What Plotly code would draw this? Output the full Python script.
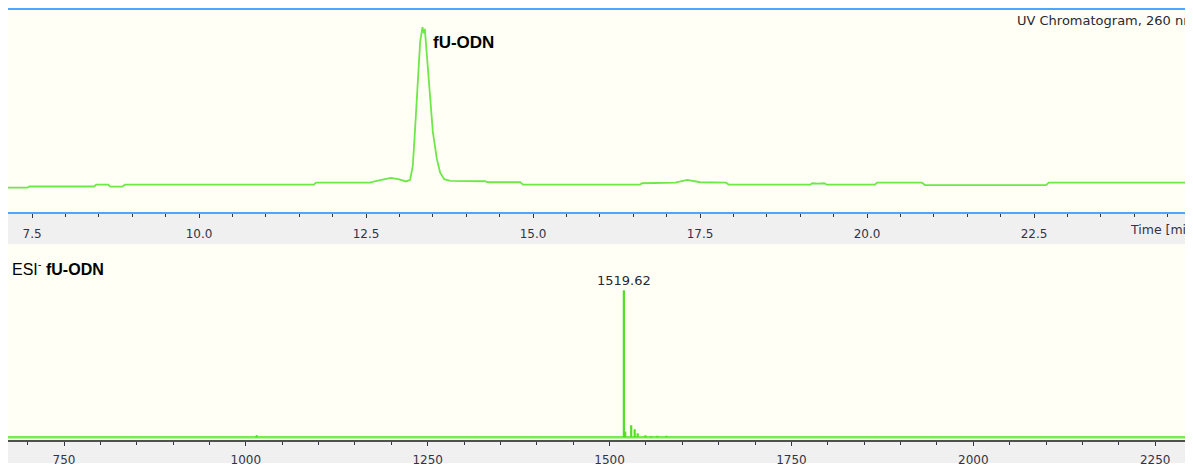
import plotly.graph_objects as go
from plotly.subplots import make_subplots

# ---------------- data ----------------
# UV chromatogram (260 nm): retention time [min] vs absorbance (arb. units)
uv_time = [7.14, 7.43, 7.46, 8.43, 8.46, 8.64, 8.67, 8.85, 8.89, 11.72, 11.75, 12.56,
           12.63, 12.78, 12.87, 12.98, 13.10, 13.16, 13.20, 13.23, 13.26, 13.31, 13.345,
           13.365, 13.38, 13.41, 13.46, 13.50, 13.56, 13.61, 13.67, 13.76, 14.28, 14.33,
           14.81, 14.85, 16.60, 16.63, 17.13, 17.31, 17.50, 17.89, 17.93, 19.15, 19.18,
           19.27, 19.36, 19.40, 20.12, 20.15, 20.82, 20.87, 22.68, 22.72, 24.88]
uv_abs = [11.9, 11.9, 12.5, 12.5, 13.4, 13.4, 12.4, 12.4, 13.4, 13.4, 14.4, 14.4,
          15.1, 16.3, 16.8, 16.1, 15.0, 15.8, 22.8, 38.6, 55.9, 84.2, 91.5,
          88.5, 90.6, 77.2, 55.9, 39.6, 26.2, 19.3, 16.1, 15.3, 15.1, 14.6,
          14.6, 13.4, 13.4, 14.1, 14.4, 15.8, 14.6, 14.4, 13.4, 13.4, 14.1,
          13.9, 14.1, 13.4, 13.4, 14.4, 14.4, 13.2, 13.2, 14.4, 14.4]
uv_range = [7.14, 24.88]
uv_ticks = [7.5, 10.0, 12.5, 15.0, 17.5, 20.0, 22.5]

# ESI- mass spectrum: m/z vs relative intensity
ms_mz = [1015.0, 1519.62, 1521.5, 1529.7, 1534.5, 1538.6, 1549.2, 1557.0, 1565.7, 1578.1]
ms_int = [1.0, 76.0, 3.0, 6.2, 4.1, 2.0, 1.0, 0.6, 0.8, 0.8]
ms_range = [673, 2302]
ms_ticks = [750, 1000, 1250, 1500, 1750, 2000, 2250]
ms_label_peak = 1519.62

# ---------------- styling ----------------
OFF = 8                      # page body margin of the html page
W, H = 1193 - OFF, 467 - OFF
GREEN = "rgb(110,232,70)"
GREEN2 = "rgb(80,225,30)"
PLOTBG = "rgb(255,255,246)"
STRIP = "rgb(240,240,240)"
BLUE = "rgb(77,166,255)"
TICKCOL = "rgb(50,52,70)"

def py(p):  # page pixel from top -> paper y
    return 1 - (p - OFF) / H

def px(p):  # page pixel from left -> paper x
    return (p - OFF) / W

fig = make_subplots(rows=2, cols=1, shared_xaxes=False, vertical_spacing=0.0)

fig.add_trace(go.Scatter(x=uv_time, y=uv_abs, mode="lines",
                         line=dict(color=GREEN, width=1.8), hoverinfo="skip"),
              row=1, col=1)

# baseline of spectrum
fig.add_trace(go.Scatter(x=ms_range, y=[0, 0], mode="lines",
                         line=dict(color="rgb(120,235,80)", width=2.5), hoverinfo="skip"),
              row=2, col=1)
sx, sy = [], []
for m, i in zip(ms_mz, ms_int):
    sx += [m, m, None]
    sy += [0, i, None]
fig.add_trace(go.Scatter(x=sx, y=sy, mode="lines",
                         line=dict(color=GREEN2, width=2.2), hoverinfo="skip"),
              row=2, col=1)

tickfont = dict(family="DejaVu Sans", size=12, color=TICKCOL)

fig.update_layout(
    width=W, height=H,
    margin=dict(l=0, r=0, t=0, b=0),
    paper_bgcolor="white",
    plot_bgcolor=PLOTBG,
    showlegend=False,
    xaxis=dict(domain=[0, 1], range=uv_range, tickvals=uv_ticks, tickformat=".1f",
               showgrid=False, zeroline=False, showline=True, linecolor=BLUE, linewidth=2,
               mirror=True, ticks="outside", ticklen=4, tickcolor=TICKCOL, tickwidth=1,
               minor=dict(dtick=0.5, tick0=7.5, ticks="outside", ticklen=3, tickcolor=TICKCOL, showgrid=False),
               tickfont=tickfont, ticklabelstandoff=6, fixedrange=True),
    yaxis=dict(domain=[py(213.5), py(10)], range=[0, 100], visible=False, showgrid=False,
               zeroline=False, fixedrange=True),
    xaxis2=dict(domain=[0, 1], range=ms_range, tickvals=ms_ticks,
                showgrid=False, zeroline=False, showline=True, linecolor="rgb(80,80,80)", linewidth=1.5,
                ticks="outside", ticklen=4, tickcolor=TICKCOL, tickwidth=1,
                minor=dict(dtick=50, tick0=750, ticks="outside", ticklen=3, tickcolor=TICKCOL, showgrid=False),
                tickfont=tickfont, ticklabelstandoff=4, fixedrange=True),
    yaxis2=dict(domain=[py(444), py(246)], range=[-1.54, 100], visible=False, showgrid=False,
                zeroline=False, fixedrange=True),
)

fig.update_layout(shapes=[
    dict(type="rect", xref="paper", yref="paper", x0=0, x1=1, y0=py(246), y1=py(214),
         fillcolor=STRIP, line=dict(width=0), layer="below"),
    dict(type="rect", xref="paper", yref="paper", x0=0, x1=1, y0=0, y1=py(444),
         fillcolor=STRIP, line=dict(width=0), layer="below"),
])

annos = [
    dict(text="<b>fU-ODN</b>", x=px(431), y=py(43), xref="paper", yref="paper",
         xanchor="left", yanchor="middle", showarrow=False,
         font=dict(family="Liberation Sans", size=17, color="black")),
    dict(text="ESI<sup>-</sup> <b>fU-ODN</b>", x=px(10), y=py(270.5), xref="paper", yref="paper",
         xanchor="left", yanchor="middle", showarrow=False,
         font=dict(family="Liberation Sans", size=16, color="black")),
    dict(text="UV Chromatogram, 260 nm", x=px(1015), y=py(21), xref="paper", yref="paper",
         xanchor="left", yanchor="middle", showarrow=False,
         font=dict(family="DejaVu Sans", size=13, color="rgb(40,40,50)")),
    dict(text="Time [min]", x=px(1128), y=py(231), xref="paper", yref="paper",
         xanchor="left", yanchor="middle", showarrow=False,
         font=dict(family="DejaVu Sans", size=12.5, color=TICKCOL)),
    dict(text=f"{ms_label_peak:.2f}", x=ms_label_peak, y=ms_int[1], xref="x2", yref="y2",
         xanchor="center", yanchor="bottom", showarrow=False, yshift=0,
         font=dict(family="DejaVu Sans", size=13, color="rgb(40,40,50)")),
]
fig.update_layout(annotations=annos)

fig.write_html("out.html")
